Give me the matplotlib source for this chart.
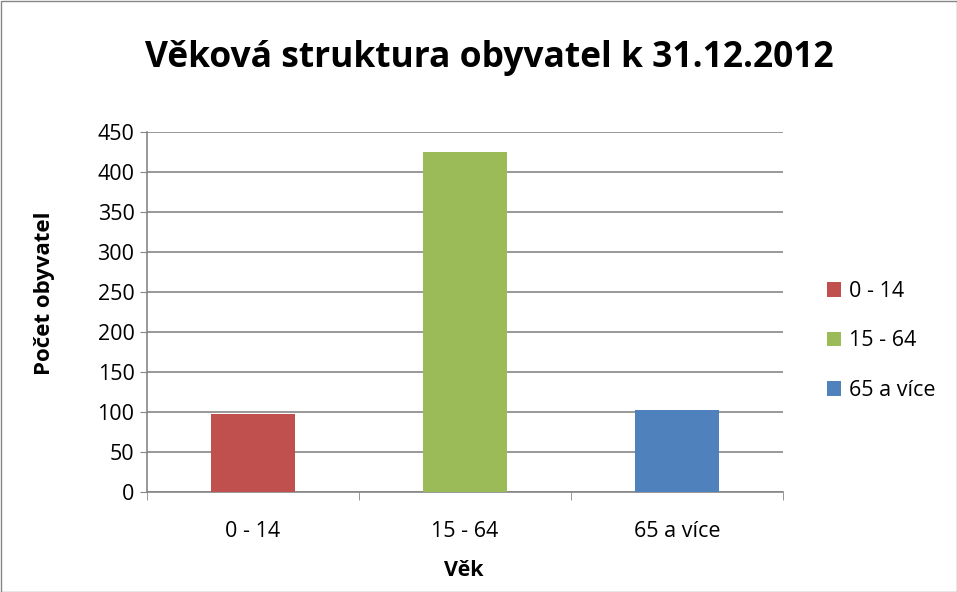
import matplotlib.pyplot as plt
from matplotlib.patches import Patch

categories = ["0 - 14", "15 - 64", "65 a více"]
values = [98, 425, 103]
colors = ["#C0504D", "#9BBB59", "#4F81BD"]
yticks = [0, 50, 100, 150, 200, 250, 300, 350, 400, 450]

plt.rcParams['font.family'] = ['Open Sans', 'DejaVu Sans']

fig = plt.figure(figsize=(9.57, 5.92), dpi=100)
W, H = 957, 592
ax = fig.add_axes([147 / W, 1 - 492 / H, (783 - 147) / W, (492 - 132) / H])

x = list(range(len(categories)))
bars = ax.bar(x, values, width=0.4, color=colors, zorder=3)

ax.set_xlim(-0.5, 2.5)
ax.set_ylim(0, 450)
ax.set_yticks(yticks)
ax.set_yticklabels([str(v) for v in yticks], fontsize=15.5)
ax.set_xticks(x)
ax.set_xticklabels(categories, fontsize=15.5)
ax.tick_params(axis='x', length=0, pad=21)
ax.set_xticks([-0.5, 0.5, 1.5, 2.5], minor=True)
ax.tick_params(axis='x', which='minor', length=6, color='#868686', direction='out')
ax.tick_params(axis='y', length=5, color='#868686', direction='out', pad=4)

ax.grid(axis='y', color='#868686', linewidth=1.2, zorder=0)
for s in ['top', 'right']:
    ax.spines[s].set_visible(False)
for s in ['left', 'bottom']:
    ax.spines[s].set_color('#868686')
    ax.spines[s].set_linewidth(1.2)

ax.set_ylabel("Počet obyvatel", fontsize=16, fontweight='bold')
ax.yaxis.set_label_coords((45 - 147) / 636, (492 - 293) / 360)
ax.set_xlabel("Věk", fontsize=15.5, fontweight='bold')
ax.xaxis.set_label_coords((464 - 147) / 636, (492 - 570) / 360)
ax.xaxis.label.set_va('center')
ax.yaxis.label.set_va('center')

fig.text(489 / W, 1 - 58 / H, "Věková struktura obyvatel k 31.12.2012",
         ha='center', va='center', fontsize=25.5, fontweight='bold')

handles = [Patch(facecolor=c, edgecolor='none') for c in colors]
fig.legend(handles, categories, loc='center left', bbox_to_anchor=(808 / W, 1 - 341 / H),
           frameon=False, fontsize=15.5, handlelength=0.65, handleheight=0.65,
           handletextpad=0.35, labelspacing=1.32)

border = plt.Rectangle((0.5 / W, 0.5 / H), 1 - 1 / W, 1 - 1 / H, transform=fig.transFigure,
                       fill=False, edgecolor='#868686', linewidth=1)
fig.patches.append(border)

fig.savefig("out.png", dpi=100)
